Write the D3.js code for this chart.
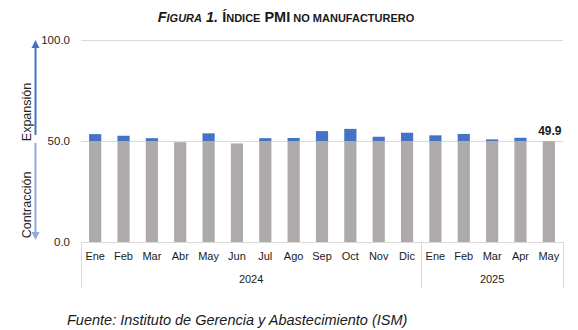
<!DOCTYPE html>
<html>
<head>
<meta charset="utf-8">
<script src="https://cdn.jsdelivr.net/npm/d3@7"></script>
<style>
  html, body { margin: 0; padding: 0; background: #ffffff; }
  svg { display: block; font-family: "Liberation Sans", Arial, sans-serif; }
</style>
</head>
<body>
<svg id="chart" width="578" height="330"></svg>
<script>
// Monthly index values (ISM services PMI)
const months = ["Ene","Feb","Mar","Abr","May","Jun","Jul","Ago","Sep","Oct","Nov","Dic",
                "Ene","Feb","Mar","Apr","May"];
const years = ["2024","2024","2024","2024","2024","2024","2024","2024","2024","2024","2024","2024",
               "2025","2025","2025","2025","2025"];
const values = [53.4, 52.6, 51.4, 49.4, 53.8, 48.8, 51.4, 51.5, 54.9, 56.0, 52.1, 54.1,
                52.8, 53.5, 50.8, 51.6, 49.9];
const yTicks = [0, 50, 100];
const threshold = 50;

const svg = d3.select("#chart");
const W = 578;
const x0 = 81, x1 = 563;
const yTop = 40, yBot = 242;

const keys = months.map((m, i) => i);
const x = d3.scaleBand().domain(keys).range([x0, x1]).paddingInner(0.57).paddingOuter(0.285);
const y = d3.scaleLinear().domain([0, 100]).range([yBot, yTop]);

// Gridlines at 50 and 100
svg.append("g").selectAll("line")
  .data(yTicks.filter(t => t > 0))
  .join("line")
  .attr("x1", x0).attr("x2", x1)
  .attr("y1", d => Math.round(y(d)) + 0.5).attr("y2", d => Math.round(y(d)) + 0.5)
  .attr("stroke", "#d9d9d9").attr("stroke-width", 1);

// Y tick labels
svg.append("g").selectAll("text")
  .data(yTicks)
  .join("text")
  .attr("x", 70).attr("y", d => y(d) + 4)
  .attr("text-anchor", "end")
  .attr("font-size", 11.5).attr("fill", "#262626")
  .text(d => d3.format(".1f")(d));

// Stacked bars: part below threshold (gray) and part above it (blue)
const rows = values.map((v, i) => ({ i, low: Math.min(v, threshold), high: Math.max(v - threshold, 0) }));
const stack = d3.stack().keys(["low", "high"])(rows);
const colors = { low: "#aeaaaa", high: "#4472c4" };

svg.append("g").selectAll("g")
  .data(stack)
  .join("g")
  .attr("fill", s => colors[s.key])
  .selectAll("rect")
  .data(s => s.filter(d => d[1] > d[0]))
  .join("rect")
  .attr("x", d => x(d.data.i))
  .attr("width", x.bandwidth())
  .attr("y", d => y(d[1]))
  .attr("height", d => y(d[0]) - y(d[1]));

// Value label on the latest month
const last = values.length - 1;
svg.append("text")
  .attr("x", x(last) + x.bandwidth() / 2 + 1)
  .attr("y", y(values[last]) - 6)
  .attr("text-anchor", "middle")
  .attr("font-size", 12).attr("font-weight", "bold").attr("fill", "#1a1a1a")
  .text(d3.format(".1f")(values[last]));

// Category axis: baseline, separators, month and year labels
const axisG = svg.append("g").attr("stroke", "#d9d9d9").attr("stroke-width", 1);
axisG.append("line").attr("x1", x0).attr("x2", x1).attr("y1", yBot + 0.5).attr("y2", yBot + 0.5);

const yearGroups = d3.groups(keys, k => years[k]);
const catLeft = k => x0 + k * (x1 - x0) / keys.length;
const seps = [0];
yearGroups.forEach(([yr, ks]) => seps.push(ks[ks.length - 1] + 1));
axisG.selectAll("line.sep")
  .data(seps)
  .join("line")
  .attr("class", "sep")
  .attr("x1", d => Math.round(catLeft(d)) + 0.5).attr("x2", d => Math.round(catLeft(d)) + 0.5)
  .attr("y1", yBot).attr("y2", 288);

svg.append("g").selectAll("text")
  .data(keys)
  .join("text")
  .attr("x", k => x(k) + x.bandwidth() / 2)
  .attr("y", 260)
  .attr("text-anchor", "middle")
  .attr("font-size", 11).attr("fill", "#1a1a1a")
  .text(k => months[k]);

svg.append("g").selectAll("text")
  .data(yearGroups)
  .join("text")
  .attr("x", ([yr, ks]) => (catLeft(ks[0]) + catLeft(ks[ks.length - 1] + 1)) / 2)
  .attr("y", 283)
  .attr("text-anchor", "middle")
  .attr("font-size", 11).attr("fill", "#1a1a1a")
  .text(([yr]) => yr);

// Expansion / contraction arrows
const defs = svg.append("defs");
function marker(id, color) {
  defs.append("marker")
    .attr("id", id).attr("viewBox", "0 0 10 10")
    .attr("refX", 5).attr("refY", 5)
    .attr("markerWidth", 4).attr("markerHeight", 4.5)
    .attr("orient", "auto")
    .append("path").attr("d", "M0,0 L10,5 L0,10 Z").attr("fill", color);
}
marker("arrUp", "#4472c4");
marker("arrDown", "#8faadc");

svg.append("line")
  .attr("x1", 35.5).attr("x2", 35.5).attr("y1", 135).attr("y2", 44)
  .attr("stroke", "#4472c4").attr("stroke-width", 2)
  .attr("marker-end", "url(#arrUp)");
svg.append("line")
  .attr("x1", 35.5).attr("x2", 35.5).attr("y1", 143).attr("y2", 236)
  .attr("stroke", "#8faadc").attr("stroke-width", 2)
  .attr("marker-end", "url(#arrDown)");

svg.append("text")
  .attr("transform", "translate(31,112) rotate(-90)")
  .attr("text-anchor", "middle")
  .attr("font-size", 12.5).attr("fill", "#262626")
  .text("Expansión");
svg.append("text")
  .attr("transform", "translate(31,205) rotate(-90)")
  .attr("text-anchor", "middle")
  .attr("font-size", 12.5).attr("fill", "#262626")
  .text("Contracción");

// Title in small capitals
const title = svg.append("text")
  .attr("x", 286).attr("y", 22)
  .attr("text-anchor", "middle")
  .attr("font-weight", "bold").attr("fill", "#1a1a1a");
const big = 14.5, small = 11;
[
  ["F", big, true], ["IGURA", small, true], [" 1.", big, true],
  [" Í", big, false], ["NDICE", small, false], [" PMI", big, false],
  [" NO MANUFACTURERO", small, false]
].forEach(([t, s, it]) => {
  title.append("tspan")
    .attr("font-size", s)
    .attr("font-style", it ? "italic" : "normal")
    .text(t);
});

// Source note
svg.append("text")
  .attr("x", 67).attr("y", 325)
  .attr("font-size", 14.5).attr("font-style", "italic").attr("fill", "#1a1a1a")
  .text("Fuente: Instituto de Gerencia y Abastecimiento (ISM)");
</script>
</body>
</html>
